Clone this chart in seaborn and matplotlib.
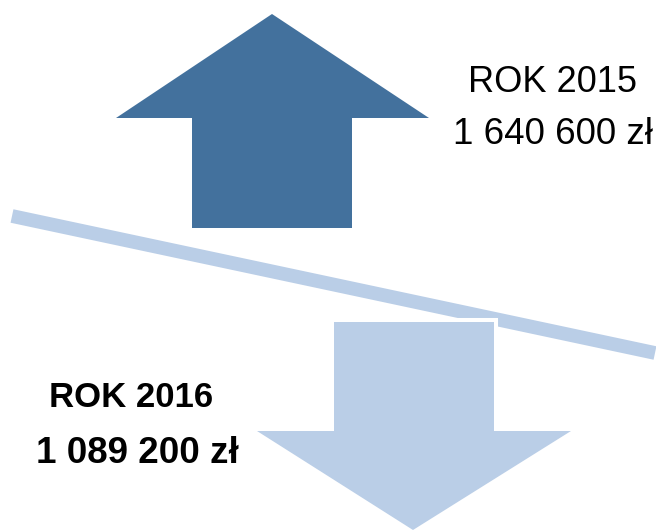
import matplotlib
matplotlib.use("Agg")
import matplotlib.pyplot as plt
import seaborn as sns
import pandas as pd
from matplotlib.patches import Polygon

# Data
years = ["2015", "2016"]
values = [1640600, 1089200]
colors = ["#43719D", "#BACEE7"]

def fmt_value(v):
    return f"{v:,}".replace(",", " ") + " zł"

sns.set_theme(style="white")
plt.rcParams["font.family"] = ["Liberation Sans", "DejaVu Sans"]

fig = plt.figure(figsize=(6.56, 5.30), dpi=100)
ax = fig.add_axes([0, 0, 1, 1])
ax.set_xlim(0, 656)
ax.set_ylim(530, 0)
ax.axis("off")

# Tilted balance line
beam = pd.DataFrame({"x": [12, 655], "y": [216, 353]})
sns.lineplot(data=beam, x="x", y="y", ax=ax, color=colors[1], linewidth=9.9,
             solid_capstyle="butt", zorder=2, legend=False)

# Up arrow (2015)
up = [(272, 14), (429, 118), (352, 118), (352, 228), (192, 228), (192, 118), (116, 118)]
ax.add_patch(Polygon(up, closed=True, facecolor=colors[0], edgecolor="none", zorder=3))

# Down arrow (2016) with white outline
down = [(334, 322), (494, 322), (494, 431), (571, 431), (413, 530), (257, 431), (334, 431)]
ax.add_patch(Polygon(down, closed=True, facecolor="white", edgecolor="white",
                     linewidth=5.8, joinstyle="miter", zorder=4))
ax.add_patch(Polygon(down, closed=True, facecolor=colors[1], edgecolor="none", zorder=5))

# Labels
ax.text(552, 92, f"ROK {years[0]}", ha="center", va="baseline", fontsize=26,
        color="#000000", zorder=6)
ax.text(553, 144, fmt_value(values[0]), ha="center", va="baseline", fontsize=26.5,
        color="#000000", zorder=6)
ax.text(131, 407, f"ROK {years[1]}", ha="center", va="baseline", fontsize=25,
        fontweight="bold", color="#000000", zorder=6)
ax.text(137, 463, fmt_value(values[1]), ha="center", va="baseline", fontsize=26.5,
        fontweight="bold", color="#000000", zorder=6)

fig.savefig("out.png", dpi=100)
